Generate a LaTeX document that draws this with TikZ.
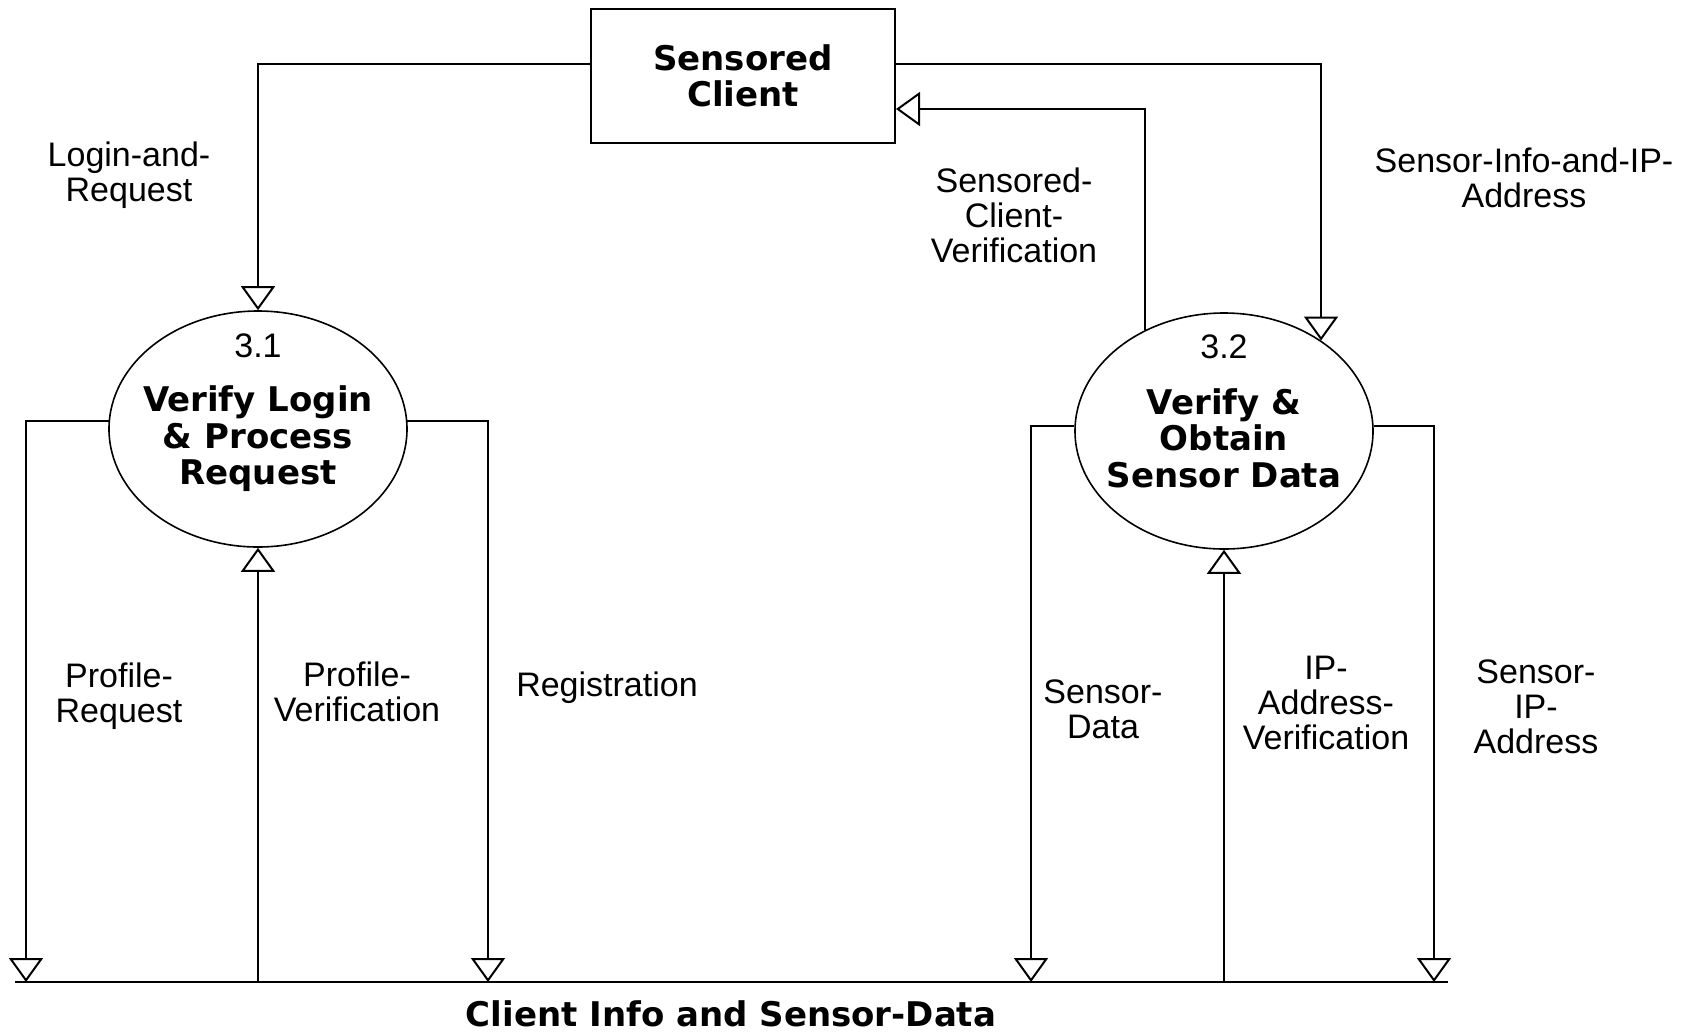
\documentclass[tikz,border=0pt]{standalone}
\usepackage{fontspec}
\setmainfont{Liberation Sans}
\newfontfamily\titlefont{DejaVu Sans}
\usetikzlibrary{shapes.geometric}
\usetikzlibrary{arrows.meta}

\begin{document}
\begin{tikzpicture}[x=0.5pt,y=-0.5pt,
  font=\fontsize{17}{17.5}\selectfont,
  proc/.style={draw,ellipse,line width=0.8pt,minimum width=149pt,minimum height=118pt,inner sep=0pt},
  ent/.style={draw,line width=1pt,minimum width=152pt,minimum height=67pt,align=center,
    font=\titlefont\bfseries\fontsize{17}{18.3}\selectfont},
  title/.style={align=center,font=\titlefont\bfseries\fontsize{17}{18.3}\selectfont},
  flow/.style={-{Triangle[open,length=12pt,width=17pt]},line width=1pt},
  lbl/.style={align=center}]
  \useasboundingbox (0,0) rectangle (1691,1034);

  \node[ent] (client) at (743,76) {Sensored\\Client};
  \node[proc] (p31) at (258,429) {};
  \node[proc] (p32) at (1224,431) {};
  \node (n31) at (258,346) {3.1};
  \node (n32) at (1224,347) {3.2};
  \node[title] (t31) at (258,439) {Verify Login\\\& Process\\Request};
  \node[title] (t32) at (1224,438) {Verify \&\\Obtain\\Sensor Data};

  % data store
  \coordinate (sl) at (15,982);
  \coordinate (sr) at (1448,982);
  \draw[line width=1pt] (sl) -- (sr);
  \node[title,inner sep=1pt] (store) at (731,1014) {Client Info and Sensor-Data};

  \draw[flow] (client.west |- 0,64) -| (p31.north);
  \draw[flow] (client.east |- 0,64) -| (p32.43);
  \draw[flow] (p32.128) |- (client.east |- 0,109);
  \draw[flow] (p31.177) -| (26,0 |- sl);
  \draw[flow] (p31.south |- sl) -- (p31.south);
  \draw[flow] (p31.3) -| (488,0 |- sl);
  \draw[flow] (p32.178) -| (1031,0 |- sl);
  \draw[flow] (p32.south |- sl) -- (p32.south);
  \draw[flow] (p32.2) -| (1434,0 |- sl);

  \node[lbl] (login) at (129,175) {Login-and-\\Request};
  \node[lbl] (verif) at (1014,215) {Sensored-\\Client-\\Verification};
  \node[lbl] (info) at (1524,178) {Sensor-Info-and-IP-\\Address};
  \node[lbl] (preq) at (119,696) {Profile-\\Request};
  \node[lbl] (pver) at (357,692) {Profile-\\Verification};
  \node[lbl] (reg) at (607,688) {Registration};
  \node[lbl] (sdata) at (1103,709) {Sensor-\\Data};
  \node[lbl] (ipver) at (1326,703) {IP-\\Address-\\Verification};
  \node[lbl] (sip) at (1536,707) {Sensor-\\IP-\\Address};
\end{tikzpicture}
\end{document}
